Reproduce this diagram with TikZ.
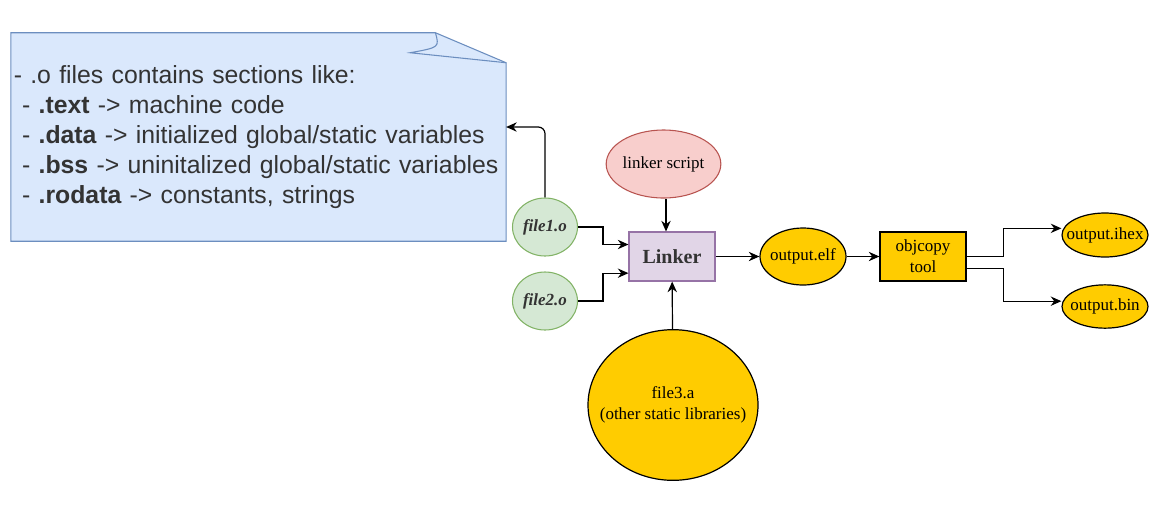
\documentclass[tikz,border=0pt]{standalone}
\usepackage{fontspec}
\setmainfont{Liberation Serif}
\newfontfamily\notefont{Liberation Sans}
\usetikzlibrary{shapes.geometric,positioning,backgrounds,arrows.meta,calc}

\definecolor{noteblue}{HTML}{DAE8FC}
\definecolor{noteedge}{HTML}{6C8EBF}
\definecolor{objgreen}{HTML}{D5E8D4}
\definecolor{objedge}{HTML}{82B366}
\definecolor{linkfill}{HTML}{E1D5E7}
\definecolor{linkedge}{HTML}{9673A6}
\definecolor{scriptfill}{HTML}{F8CECC}
\definecolor{scriptedge}{HTML}{B85450}
\definecolor{gold}{HTML}{FFCC00}
\definecolor{txtgray}{HTML}{333333}

\begin{document}
\begin{tikzpicture}[x=0.75pt, y=-0.75pt,
  lbl/.style={font=\fontsize{12.75}{15.5}\selectfont, align=center, inner sep=0pt},
  objlbl/.style={lbl, font=\fontsize{12.75}{15.5}\selectfont\bfseries\itshape, text=txtgray},
  objfile/.style={ellipse, draw=objedge, fill=objgreen, line width=0.8pt,
                  minimum width=48.75pt, minimum height=43.5pt, inner sep=0pt},
  goldell/.style={ellipse, draw=black, fill=gold, line width=0.9pt, inner sep=0pt},
  goldbox/.style={rectangle, draw=black, fill=gold, line width=0.9pt, lbl,
                  minimum width=64.5pt, minimum height=36.75pt},
  arrow/.style={-{Stealth[length=8pt, width=7pt]}, line width=0.9pt},
]
\useasboundingbox (0,0) rectangle (1163,519);

% the note about sections
\node[rectangle, minimum width=371pt, minimum height=156pt, inner xsep=2pt,
      text width=367pt, align=left, text=txtgray,
      font=\notefont\fontsize{18.6}{22.5}\selectfont] (note) at (258.5,137)
  {- .o files contains sections like:\\
   \ - \textbf{.text} -> machine code\\
   \ - \textbf{.data} -> initialized global/static variables\\
   \ - \textbf{.bss} -> uninitalized global/static variables\\
   \ - \textbf{.rodata} -> constants, strings};
\begin{scope}[on background layer]
  \draw[draw=noteedge, fill=noteblue, line width=0.8pt]
    (note.north west) -- ([xshift=-53pt]note.north east)
    -- ([yshift=-22.5pt]note.north east) -- (note.south east)
    -- (note.south west) -- cycle;
  \draw[draw=noteedge, line width=0.8pt]
    ([xshift=-53pt]note.north east)
    .. controls ([xshift=-50pt, yshift=-11pt]note.north east) .. ([xshift=-72pt, yshift=-15pt]note.north east)
    -- ([yshift=-22.5pt]note.north east);
\end{scope}

% inputs
\node[objfile, label={[objlbl]center:file1.o}] (file1) at (545,227) {};
\node[objfile, label={[objlbl]center:file2.o}] (file2) at (545,301) {};
\node[rectangle, draw=linkedge, fill=linkfill, line width=0.8pt,
      minimum width=64.5pt, minimum height=36.75pt, text=txtgray,
      font=\fontsize{15}{18}\selectfont\bfseries] (linker) at (672,256.5) {Linker};
\node[ellipse, draw=scriptedge, fill=scriptfill, line width=0.8pt, inner sep=0pt,
      minimum width=86pt, minimum height=51pt,
      label={[lbl]center:linker script}] (script) at (663.5,164) {};
\node[goldell, minimum width=127.5pt, minimum height=113pt,
      label={[lbl, font=\fontsize{12.75}{15.75}\selectfont]center:file3.a\\(other static libraries)}] (lib) at (673,405) {};

% outputs
\node[goldell, minimum width=64.5pt, minimum height=42.75pt,
      label={[lbl]center:output.elf}] (elf) at (803,256.5) {};
\node[goldbox] (objcopy) at (923,256.5) {objcopy\\tool};
\node[goldell, minimum width=64.5pt, minimum height=33pt,
      label={[lbl]center:output.ihex}] (ihex) at (1105,235) {};
\node[goldell, minimum width=64.5pt, minimum height=32.5pt,
      label={[lbl]center:output.bin}] (bin) at (1105,306.5) {};

% connectors
\draw[arrow, rounded corners=5pt] (file1.north) |- ([yshift=7.5pt]note.east);
\draw[arrow] (file1.east) -- ++(25,0) |- ([yshift=9pt]linker.west);
\draw[arrow] (file2.east) -- ++(25,0) |- ([yshift=-12.5pt]linker.west);
\draw[arrow] (script.south -| 666,0) -- (linker.north -| 666,0);
\draw[arrow] (lib) -- (linker);
\draw[arrow] (linker) -- (elf);
\draw[arrow] (elf) -- (objcopy);
\draw[arrow] (objcopy.east) -- ++(37,0) |- ([yshift=5pt]ihex.west);
\draw[arrow] ([yshift=-9pt]objcopy.east) -- ++(37,0) |- ([yshift=4pt]bin.west);

\end{tikzpicture}
\end{document}
